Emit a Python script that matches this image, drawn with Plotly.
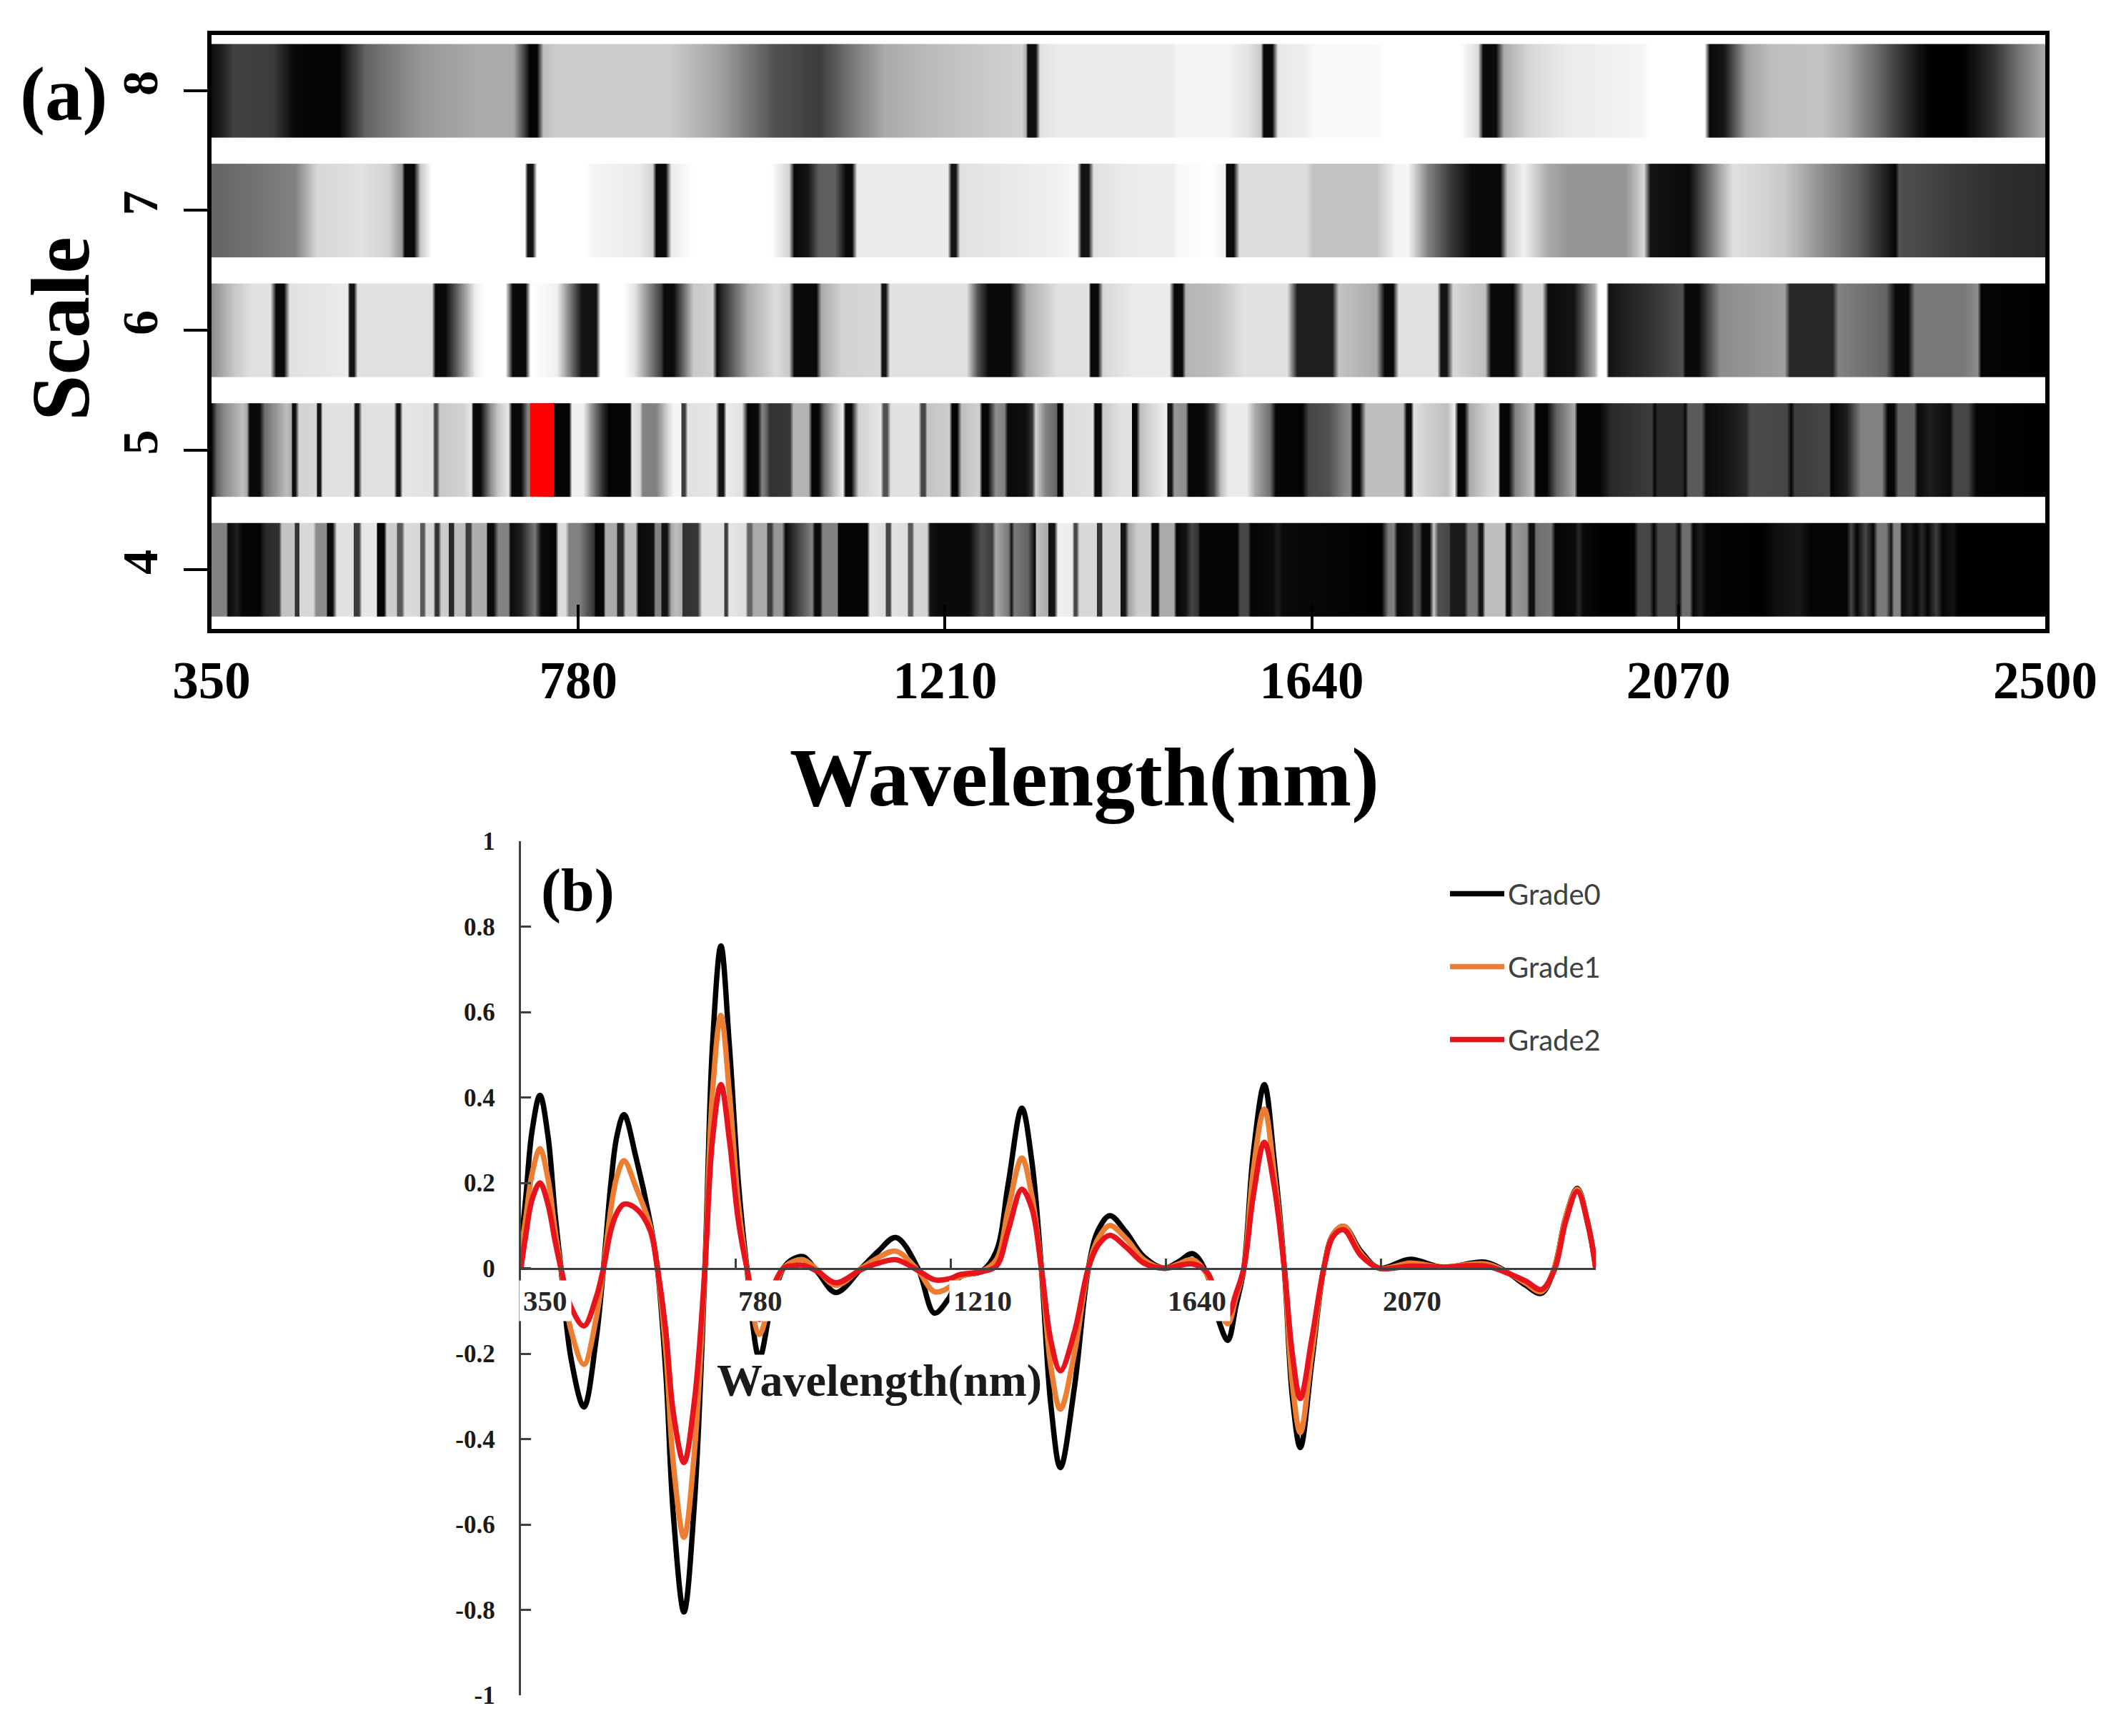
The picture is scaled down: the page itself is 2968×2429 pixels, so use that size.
import plotly.graph_objects as go

W, H = 2968, 2429
SERIF = "Liberation Serif"

# ---------- panel (a): grey level (0 black .. 255 white) by wavelength, per scale ----------
scale8 = [(350,15),(362,30),(375,65),(422,60),(445,10),(461,5),(499,5),(531,100),(595,150),(659,170),(704,170),(717,60),(723,5),(731,5),(739,190),(755,205),(883,205),(947,160),(1011,80),(1062,60),(1094,110),(1139,170),(1203,190),(1299,210),(1304,180),(1307,15),(1316,15),(1321,225),
          (1342,235),(1477,235),(1481,245),(1540,245),(1567,225),(1580,200),(1583,10),(1593,10),(1600,230),(1634,240),(1641,248),(1716,248),(1723,255),(1813,255),(1835,220),(1841,10),(1856,10),(1865,170),(1895,215),(1940,235),(2029,245),(2037,255),(2100,255),(2106,10),(2123,20),(2149,160),(2179,190),(2238,195),(2268,165),(2306,100),(2343,30),(2365,0),(2403,0),(2440,50),(2470,120),(2500,170)]
scale7 = [(350,100),(403,115),(448,130),(473,215),(525,225),(557,210),(573,150),(576,10),(587,10),(595,200),(608,255),(717,255),(720,20),(726,20),(731,255),(787,255),(797,245),(851,235),(867,210),(871,10),(882,10),(889,235),(915,255),(1005,255),(1027,210),(1033,10),(1049,20),(1062,95),(1081,95),(1093,10),(1101,10),(1107,235),(1213,235),(1217,20),(1222,20),(1227,225),
          (1342,240),(1365,248),(1370,20),(1378,20),(1384,225),(1425,235),(1477,238),(1484,248),(1522,255),(1538,240),(1540,10),(1548,10),(1555,220),(1634,220),(1641,195),(1716,195),(1738,245),(1753,245),(1776,130),(1805,50),(1828,10),(1861,10),(1869,200),(1888,240),(1917,170),(1940,150),(2007,150),(2029,215),(2037,20),(2082,10),(2119,170),(2134,225),(2194,200),(2231,150),(2283,90),(2313,30),(2324,5),(2328,80),(2388,60),(2448,45),(2500,40)]
scale6 = [(350,140),(377,200),(397,225),(419,225),(425,10),(435,10),(441,225),(509,235),(512,20),(517,20),(521,225),(608,225),(612,10),(624,10),(659,240),(672,255),(694,255),(703,10),(718,10),(724,255),(755,240),(784,20),(801,20),(806,255),(832,255),(845,230),(877,60),(880,10),(891,10),(915,200),(937,210),(942,10),(947,40),(979,170),(1011,220),(1027,200),(1033,10),(1059,10),(1065,170),(1088,210),(1133,215),(1136,20),(1140,20),(1145,225),(1235,225),(1248,80),(1261,10),(1286,10),(1305,170),
          (1342,225),(1378,225),(1381,10),(1389,10),(1395,215),(1432,235),(1473,235),(1479,10),(1488,10),(1492,180),(1529,190),(1559,225),(1611,225),(1623,30),(1664,30),(1671,195),(1716,170),(1725,10),(1735,10),(1742,225),(1787,225),(1791,20),(1798,20),(1805,215),(1843,190),(1850,10),(1876,10),(1888,210),(1910,210),(1917,10),(1947,20),(1971,170),(1976,255),(1985,255),(1988,20),(2037,50),(2074,80),(2078,10),(2093,10),(2119,140),(2194,160),(2200,40),(2250,40),(2257,130),(2313,100),(2324,10),(2339,10),(2347,120),(2403,120),(2420,140),(2425,5),(2500,0)]
scale5 = [(350,10),(356,100),(365,140),(386,190),(391,170),(394,10),(406,10),(412,110),(438,190),(443,170),(445,15),(448,15),(452,210),(472,215),(474,20),(477,20),(480,225),(516,225),(518,20),(522,20),(526,225),(564,225),(567,20),(570,20),(574,230),(609,225),(611,70),(614,70),(617,200),(646,210),(654,230),(657,10),(665,10),(677,140),(686,200),(698,230),(702,10),(713,10),(720,130),(725,130),(745,40),(752,5),(769,5),(772,240),(786,240),(795,150),(809,40),(816,5),(840,5),(843,230),(852,215),(855,130),(871,130),(885,220),
          (891,245),(900,245),(901,60),(905,60),(908,225),(941,230),(945,20),(950,20),(953,235),(972,225),(978,5),(990,10),(995,130),(1000,100),(1004,50),(1028,55),(1032,180),(1050,180),(1054,5),(1061,5),(1068,110),(1080,190),(1090,240),(1093,10),(1100,10),(1108,210),(1134,230),(1138,80),(1142,80),(1146,225),(1179,225),(1182,70),(1186,70),(1189,195),(1215,205),(1218,5),(1224,5),(1229,190),(1250,210),(1253,5),(1260,5),(1269,140),(1279,130),(1283,10),(1304,15),(1312,50),(1316,210),(1328,130),(1340,100),(1342,5),(1347,5),(1350,220),(1383,225),(1386,10),(1392,10),(1395,200),(1415,225),(1428,225),(1429,5),(1434,5),
          (1438,190),(1455,220),(1469,240),(1471,20),(1475,20),(1479,150),(1492,140),(1495,5),(1514,10),(1525,70),(1533,190),(1542,235),(1563,235),(1573,170),(1591,110),(1598,5),(1629,5),(1636,70),(1660,80),(1677,130),(1685,140),(1688,5),(1696,5),(1703,190),(1747,190),(1751,10),(1756,10),(1759,225),(1773,210),(1799,190),(1807,240),(1811,5),(1819,5),(1825,170),(1847,215),(1858,220),(1861,5),(1871,5),(1878,130),(1899,190),(1903,5),(1915,5),(1927,100),(1948,170),(1951,5),(1978,5),
          (1990,40),(2038,60),(2042,5),(2045,40),(2074,40),(2078,5),(2081,90),(2097,90),(2102,10),(2124,20),(2149,40),(2154,75),(2197,70),(2202,5),(2206,60),(2246,70),(2249,5),(2267,30),(2284,130),(2308,130),(2315,5),(2322,5),(2327,100),(2346,100),(2350,10),(2364,30),(2388,10),(2393,70),(2409,70),(2419,5),(2500,0)]
scale4 = [(350,130),(367,130),(369,10),(379,30),(386,5),(406,5),(413,40),(429,50),(432,195),(446,195),(448,50),(452,50),(453,215),(469,215),(472,140),(484,140),(486,10),(492,10),(497,225),(516,225),(517,60),(523,60),(526,230),(543,230),(544,5),(552,5),(555,205),(566,205),(568,90),(573,90),(576,220),(594,215),(595,90),(599,90),(601,215),(610,215),(612,50),(616,50),(619,205),(627,200),(628,40),(633,40),(635,190),(647,190),(648,60),(653,60),(656,175),(672,170),(673,10),(680,10),(686,130),(698,130),(700,10),(712,30),(729,120),(736,10),(753,5),(756,220),(765,220),(769,130),(781,130),(798,50),(800,5),(809,5),(812,170),(824,170),(826,40),(832,40),(835,190),(847,190),(850,10),(868,15),(870,130),(876,130),(878,20),(884,20),(889,170),
          (895,190),(901,170),(902,50),(920,55),(925,225),(950,225),(952,60),(954,60),(957,230),(976,220),(978,100),(983,100),(985,170),(1000,170),(1002,60),(1006,60),(1009,150),(1019,150),(1023,10),(1033,50),(1054,130),(1057,10),(1063,10),(1066,130),(1083,130),(1085,5),(1118,5),(1122,230),(1139,220),(1141,70),(1145,70),(1148,225),(1165,220),(1167,90),(1171,90),(1174,215),(1189,210),(1192,20),(1203,10),(1238,10),(1252,80),(1265,60),(1269,170),(1284,120),(1288,20),(1291,120),(1307,100),(1315,5),(1317,190),(1330,170),(1331,20),(1338,20),(1342,240),(1359,235),(1361,70),(1364,70),(1367,215),(1387,215),(1388,50),(1393,50),(1395,210),(1415,210),(1416,20),(1421,20),(1425,160),(1435,205),
          (1450,205),(1453,10),(1459,10),(1462,170),(1478,170),(1481,5),(1492,20),(1499,70),(1506,50),(1509,5),(1552,5),(1556,70),(1565,70),(1568,5),(1594,10),(1599,30),(1606,10),(1722,0),(1729,120),(1736,130),(1740,10),(1757,20),(1760,90),(1766,70),(1769,10),(1778,10),(1783,200),(1788,80),(1800,70),(1803,25),(1819,25),(1823,120),(1833,120),(1836,20),(1840,20),(1843,190),(1866,190),(1868,10),(1872,10),(1876,150),(1892,140),(1895,15),(1900,15),(1903,110),(1920,120),(1925,5),(1948,10),(1953,40),(1958,10),(1978,0),
          (2017,0),(2022,70),(2036,70),(2041,5),(2046,70),(2065,70),(2070,5),(2074,110),(2083,110),(2087,5),(2095,30),(2102,5),(2169,0),(2183,15),(2211,25),(2225,5),(2267,5),(2272,70),(2279,5),(2289,70),(2298,5),(2303,120),(2313,120),(2319,20),(2322,130),(2329,130),(2332,10),(2341,30),(2348,5),(2355,40),(2362,5),(2372,60),(2379,5),(2391,20),(2398,0),(2500,0)]
scales = [4, 5, 6, 7, 8]
scale_rows = {4: scale4, 5: scale5, 6: scale6, 7: scale7, 8: scale8}
red_band = (737.5, 28.0)          # centre, width in nm on scale 5
a_ticks = [350, 780, 1210, 1640, 2070, 2500]

# ---------- panel (b): curves ----------
wl = [350,360,372,388,404,418,430,450,476,500,515,530,542,556,580,608,623,640,655,676,697,718,733,750,767,785,802,827,850,875,895,915,944,980,1031,1065,1100,1144,1177,1206,1228,1272,1301,1325,1352,1372,1391,1410,1429,1457,1485,1505,1528,1560,1596,1637,1665,1694,1723,1745,1764,1780,1796,1815,1837,1857,1877,1893,1909,1932,1956,1975,1996,2030,2067,2129,2194,2280,2325,2360,2391,2417,2440,2463,2485,2500]
grade0 = [.05,.17,.32,.405,.31,.13,0,-.21,-.325,-.17,0,.2,.31,.36,.26,.11,0,-.25,-.58,-.805,-.55,0,.52,.755,.52,.2,0,-.21,-.09,0,.022,.027,-.01,-.057,0,.04,.072,0,-.105,-.07,-.02,-.007,.04,.2,.375,.25,0,-.32,-.467,-.28,0,.09,.123,.085,.027,0,.015,.034,-.016,-.12,-.169,-.09,0,.27,.43,.25,0,-.3,-.42,-.22,0,.08,.098,.04,0,.021,.002,.014,-.011,-.04,-.059,0,.12,.187,.1,0]
grade1 = [.04,.12,.22,.28,.21,.09,0,-.145,-.225,-.12,0,.14,.215,.252,.19,.10,0,-.2,-.46,-.63,-.43,0,.41,.592,.41,.15,0,-.155,-.07,0,.016,.02,-.005,-.04,0,.025,.04,-.005,-.055,-.045,-.02,-.007,.02,.14,.258,.17,0,-.23,-.33,-.2,0,.07,.1,.07,.02,0,.01,.02,-.016,-.09,-.13,-.07,0,.23,.373,.22,0,-.27,-.385,-.2,0,.08,.098,.035,0,.012,.003,.01,-.011,-.035,-.055,0,.12,.185,.1,0]
grade2 = [0,.08,.16,.2,.15,.065,0,-.09,-.135,-.07,0,.09,.13,.15,.14,.09,0,-.15,-.34,-.455,-.31,0,.3,.43,.3,.11,0,-.12,-.055,0,.006,.007,-.008,-.034,-.003,.012,.02,-.005,-.027,-.025,-.015,-.008,.005,.09,.185,.14,0,-.17,-.24,-.15,0,.055,.077,.05,.012,0,.006,.01,-.01,-.075,-.11,-.06,0,.17,.295,.19,0,-.2,-.305,-.165,0,.075,.09,.03,0,.005,.003,.005,-.012,-.03,-.05,-.005,.11,.18,.1,0]
b_ticks_x = [350, 780, 1210, 1640, 2070]
b_ticks_y = [1, .8, .6, .4, .2, 0, -.2, -.4, -.6, -.8, -1]
grade_names = ["Grade0", "Grade1", "Grade2"]
grade_colors = ["#000000", "#ED7D31", "#E8141C"]


def fx(p):
    return p / W


def fy(p):
    return 1 - p / H


fig = go.Figure()

# panel (a)
for s in scales:
    xs = [k[0] for k in scale_rows[s]]
    gs = [k[1] for k in scale_rows[s]]
    fig.add_trace(go.Heatmap(
        x=xs, y=[s - .39, s, s + .39], z=[gs, gs], zmin=0, zmax=255,
        colorscale=[[0, "#000000"], [1, "#ffffff"]], showscale=False,
        zsmooth="best", xaxis="x", yaxis="y", hoverinfo="skip", showlegend=False))
fig.add_trace(go.Bar(
    x=[red_band[0]], width=[red_band[1]], base=[5 - .39], y=[.78],
    marker=dict(color="#ff0000", line=dict(width=0)), xaxis="x", yaxis="y",
    hoverinfo="skip", showlegend=False))

# panel (b)
for name, col, vals in zip(grade_names, grade_colors, [grade0, grade1, grade2]):
    fig.add_trace(go.Scatter(
        x=wl, y=vals, name=name, mode="lines", xaxis="x2", yaxis="y2", cliponaxis=False,
        line=dict(color=col, width=7.5, shape="spline", smoothing=1.0),
        legendgroup=name))

# full-figure helper axes for free-standing labels
fig.add_trace(go.Scatter(x=[0], y=[0], mode="none", xaxis="x3", yaxis="y3",
                         hoverinfo="skip", showlegend=False))

annotations = [
    dict(text="<b>Wavelength(nm)</b>", xref="x3", yref="y3", x=1517, y=1088,
         showarrow=False, font=dict(family=SERIF, size=116, color="#000")),
    dict(text="<b>Scale</b>", xref="x3", yref="y3", x=85, y=460, textangle=-90,
         showarrow=False, font=dict(family=SERIF, size=116, color="#000")),
    dict(text="<b>(a)</b>", xref="x3", yref="y3", x=89, y=131,
         showarrow=False, font=dict(family=SERIF, size=105, color="#000")),
    dict(text="<b>(b)</b>", xref="x3", yref="y3", x=808, y=1246,
         showarrow=False, font=dict(family=SERIF, size=84, color="#000")),
    dict(text="<b>Wavelength(nm)</b>", xref="x3", yref="y3", x=1230, y=1931,
         showarrow=False, bgcolor="#ffffff", borderpad=0,
         font=dict(family=SERIF, size=64, color="#1a1a1a")),
]
for t in b_ticks_x:
    annotations.append(dict(
        text=f"<b>{t}</b>", xref="x2", yref="y2", x=t, y=0, xanchor="left", yanchor="middle",
        xshift=-3, yshift=-45, showarrow=False, bgcolor="#ffffff", borderpad=5,
        font=dict(family=SERIF, size=41, color="#262626")))

fig.update_layout(
    width=W, height=H, autosize=False,
    margin=dict(l=0, r=0, t=0, b=0, pad=0, autoexpand=False),
    paper_bgcolor="#ffffff", plot_bgcolor="rgba(0,0,0,0)",
    barmode="overlay",
    annotations=annotations,
    legend=dict(x=fx(2024), y=fy(1218), xanchor="left", yanchor="top",
                traceorder="grouped", tracegroupgap=47, itemwidth=76,
                bgcolor="rgba(0,0,0,0)", font=dict(family="Lato", size=40, color="#404040")),
    xaxis=dict(domain=[fx(296), fx(2862)], range=[350, 2500], anchor="y", tickmode="array",
               automargin=False,
               tickvals=a_ticks, ticks="inside", ticklen=34, tickwidth=4, tickcolor="#000",
               ticklabelstandoff=3, showgrid=False, zeroline=False, showline=True, mirror=True,
               linecolor="#000", linewidth=6,
               tickfont=dict(family=SERIF, size=73, color="#000", weight="bold")),
    yaxis=dict(domain=[fy(880), fy(49)], range=[3.505, 8.465], anchor="x", tickmode="array",
               automargin=False,
               tickvals=scales, ticks="outside", ticklen=33, tickwidth=4, tickcolor="#000",
               tickangle=-90, ticklabelstandoff=9, showgrid=False, zeroline=False, showline=True,
               mirror=True, linecolor="#000", linewidth=6,
               tickfont=dict(family=SERIF, size=70, color="#000", weight="bold")),
    xaxis2=dict(domain=[fx(729), fx(2233)], range=[350, 2500], anchor="free", automargin=False,
                position=fy(1774.5), tickmode="array", tickvals=b_ticks_x, ticks="inside", ticklen=13,
                tickwidth=3, tickcolor="#404040", showticklabels=False, showgrid=False,
                zeroline=False, showline=True, linecolor="#404040", linewidth=3),
    yaxis2=dict(domain=[fy(2372), fy(1177)], range=[-1, 1], anchor="x2", tickmode="array",
                automargin=False,
                tickvals=b_ticks_y, ticktext=[f"<b>{v:g}</b>\u00a0\u00a0\u00a0" for v in b_ticks_y],
                ticks="inside", ticklen=14, tickwidth=3, tickcolor="#404040", showgrid=False,
                zeroline=False, showline=True, linecolor="#404040", linewidth=3,
                tickfont=dict(family=SERIF, size=35, color="#1a1a1a")),
    xaxis3=dict(domain=[0, 1], range=[0, W], anchor="y3", visible=False, fixedrange=True, automargin=False),
    yaxis3=dict(domain=[0, 1], range=[H, 0], anchor="x3", visible=False, fixedrange=True, automargin=False),
)

fig.write_html("out.html", config={"displayModeBar": False},
               post_script="document.body.style.margin='0';")
